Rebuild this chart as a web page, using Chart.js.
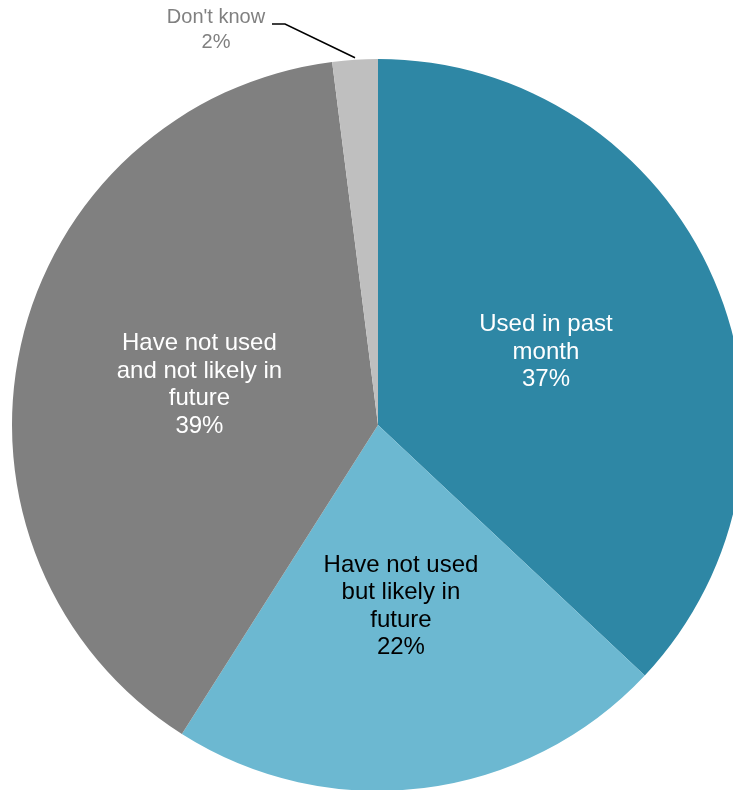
<!DOCTYPE html>
<html>
<head>
<meta charset="utf-8">
<script src="https://cdn.jsdelivr.net/npm/chart.js@4/dist/chart.umd.min.js"></script>
<style>
  html, body { margin: 0; padding: 0; background: #fff; overflow: hidden; }
  body { width: 733px; height: 790px; position: relative; }
  #wrap { position: absolute; left: 0; top: 0; width: 756px; height: 800px; }
</style>
</head>
<body>
<div id="wrap"><canvas id="pie"></canvas></div>
<script>
// Chart data
const categories = [
  ["Used in past", "month"],
  ["Have not used", "but likely in", "future"],
  ["Have not used", "and not likely in", "future"],
  ["Don't know"]
];
const shares = [37, 22, 39, 2];
const sliceColors = ["#2E87A5", "#6CB8D1", "#808080", "#BFBFBF"];
const labelColors = ["#ffffff", "#000000", "#ffffff", "#808080"];

// Draws the slice labels (inside) and the leader label for the small slice
const sliceLabels = {
  id: "sliceLabels",
  afterDatasetsDraw(chart) {
    const ctx = chart.ctx;
    const arcs = chart.getDatasetMeta(0).data;
    ctx.save();
    ctx.font = "24px 'Liberation Sans', Arial, sans-serif";
    ctx.textAlign = "center";
    ctx.textBaseline = "middle";
    const lineH = 27.5;
    arcs.forEach((arc, i) => {
      const lines = categories[i].concat([shares[i] + "%"]);
      ctx.fillStyle = labelColors[i];
      if (i === 3) {
        // outside label with leader line
        const p = arc.getProps(["x", "y", "startAngle", "endAngle", "outerRadius"], true);
        const a = (p.startAngle + p.endAngle) / 2;
        const ex = p.x + Math.cos(a) * p.outerRadius;
        const ey = p.y + Math.sin(a) * p.outerRadius;
        const lx = p.x - 162, ly = p.y - 408;
        ctx.font = "20px 'Liberation Sans', Arial, sans-serif";
        lines.forEach((t, k) => ctx.fillText(t, lx, ly + k * 25.5));
        ctx.strokeStyle = "#000";
        ctx.lineWidth = 1.5;
        ctx.beginPath();
        ctx.moveTo(lx + 56, ly + 7);
        ctx.lineTo(lx + 69, ly + 7);
        ctx.lineTo(ex, ey - 2);
        ctx.stroke();
        return;
      }
      const pos = arc.tooltipPosition();
      const top = pos.y - (lines.length - 1) * lineH / 2;
      lines.forEach((t, k) => ctx.fillText(t, pos.x, top + k * lineH));
    });
    ctx.restore();
  }
};

const chart = new Chart(document.getElementById("pie").getContext("2d"), {
  type: "pie",
  data: {
    labels: categories.map(c => c.join(" ")),
    datasets: [{
      data: shares,
      backgroundColor: sliceColors,
      borderWidth: 0
    }]
  },
  options: {
    responsive: true,
    maintainAspectRatio: false,
    animation: false,
    layout: { padding: { left: 12, right: 12, top: 59, bottom: 9 } },
    plugins: {
      legend: { display: false },
      tooltip: { enabled: false }
    }
  },
  plugins: [sliceLabels]
});
</script>
</body>
</html>
